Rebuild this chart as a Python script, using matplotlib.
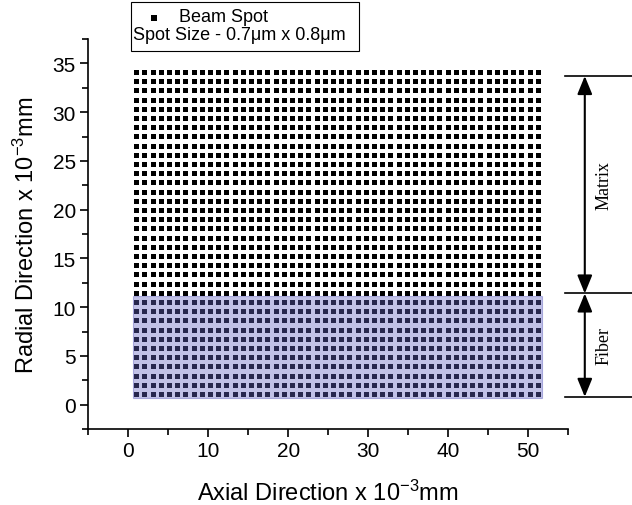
import numpy as np
import matplotlib
matplotlib.use("Agg")
import matplotlib.pyplot as plt
from matplotlib.patches import Rectangle
from matplotlib.lines import Line2D
from matplotlib.ticker import MultipleLocator

plt.rcParams['font.family'] = ['Liberation Sans', 'DejaVu Sans']
plt.rcParams['mathtext.fontset'] = 'custom'
plt.rcParams['mathtext.rm'] = 'Liberation Sans'
plt.rcParams['mathtext.it'] = 'Liberation Sans:italic'

# Beam spot scan grid (10^-3 mm)
spot_x_start, spot_x_step, spot_x_count = 1.0, 1.025, 50
spot_y_start, spot_y_step, spot_y_count = 1.1, 0.943, 36
spot_x = spot_x_start + spot_x_step * np.arange(spot_x_count)
spot_y = spot_y_start + spot_y_step * np.arange(spot_y_count)

# Fiber region (shaded) and zone boundaries
fiber_x = [0.6, 51.75]
fiber_y = [0.7, 11.1]
zone_bounds = [0.8, 11.4, 33.7]
zone_labels = ["Fiber", "Matrix"]

legend_label = "Beam Spot"
legend_note = "Spot Size - 0.7\u03bcm x 0.8\u03bcm"
xlabel = r"Axial Direction x 10$^{\mathregular{-3}}$mm"
ylabel = r"Radial Direction x 10$^{\mathregular{-3}}$mm"

W, H = 632, 506
fig = plt.figure(figsize=(W / 100, H / 100), dpi=100)
ax = fig.add_axes([88.3 / W, 1 - 430 / H, (568 - 88.3) / W, (430 - 40) / H])

gx, gy = np.meshgrid(spot_x, spot_y)
ax.plot(gx.ravel(), gy.ravel(), ls='none', marker='s', ms=3.6, mew=0,
        color='black', zorder=2)

ax.add_patch(Rectangle((fiber_x[0], fiber_y[0]), fiber_x[1] - fiber_x[0],
                       fiber_y[1] - fiber_y[0], facecolor='#6464c4',
                       alpha=0.4, edgecolor='#5050b8', lw=0.8, zorder=3))

ax.set_xlim(-5, 55)
ax.set_ylim(-2.5, 37.5)
ax.xaxis.set_major_locator(MultipleLocator(10))
ax.xaxis.set_minor_locator(MultipleLocator(5))
ax.yaxis.set_major_locator(MultipleLocator(5))
ax.yaxis.set_minor_locator(MultipleLocator(2.5))
for s in ['top', 'right']:
    ax.spines[s].set_visible(False)
for s in ['left', 'bottom']:
    ax.spines[s].set_linewidth(1.2)
ax.tick_params(which='major', direction='out', length=6, width=1.2,
               labelsize=15, pad=3)
ax.tick_params(which='minor', direction='out', length=4, width=1.2)
ax.set_xlabel(xlabel, fontsize=17, labelpad=14)
ax.set_ylabel(ylabel, fontsize=17, labelpad=10)

# zone annotation on the right
x_line0, x_line1, x_arrow, x_text = 54.6, 63.0, 57.1, 59.5
for yb in zone_bounds:
    ax.plot([x_line0, x_line1], [yb, yb], color='black', lw=1.2,
            clip_on=False, zorder=5)
for i, lab in enumerate(zone_labels):
    y0, y1 = zone_bounds[i], zone_bounds[i + 1]
    ax.annotate('', xy=(x_arrow, y0), xytext=(x_arrow, y1),
                arrowprops=dict(arrowstyle='<|-|>,head_length=1.1,head_width=0.45',
                                color='black', lw=1.5, shrinkA=0, shrinkB=0),
                annotation_clip=False)
    ax.text(x_text, (y0 + y1) / 2, lab, rotation=90, ha='center', va='center',
            family=['Liberation Serif', 'DejaVu Serif'], fontsize=13)

# legend box (figure pixel coords)
fig.add_artist(Rectangle((131 / W, 1 - 52 / H), (359 - 131) / W, 49 / H,
                         transform=fig.transFigure, facecolor='white',
                         edgecolor='black', lw=0.8))
fig.add_artist(Line2D([154 / W], [1 - 19 / H], marker='s', ms=4.3, mew=0,
                      color='black', transform=fig.transFigure))
fig.text(179 / W, 1 - 18 / H, legend_label, fontsize=13, va='center', ha='left')
fig.text(133 / W, 1 - 36 / H, legend_note, fontsize=13, va='center', ha='left')

fig.savefig('out.png', dpi=100)
